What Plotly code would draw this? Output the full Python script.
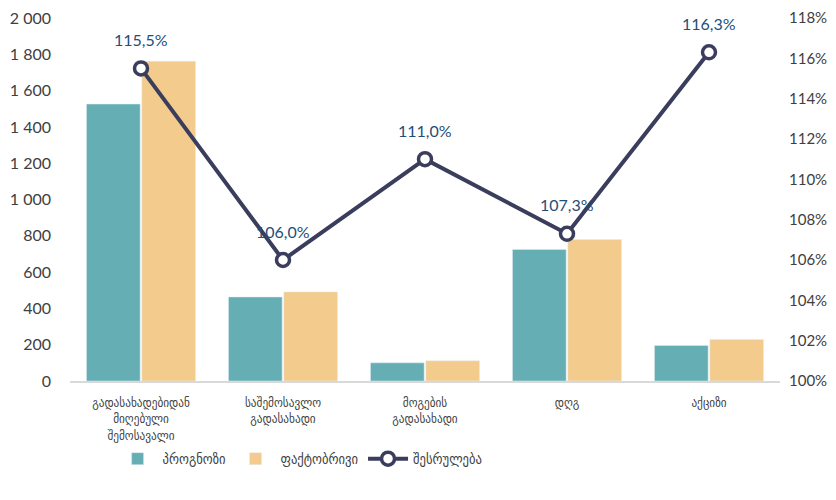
import plotly.graph_objects as go

categories = ["გადასახადებიდან<br>მიღებული<br>შემოსავალი", "საშემოსავლო<br>გადასახადი",
              "მოგების<br>გადასახადი", "დღგ", "აქციზი"]
forecast = [1526, 463, 100, 725, 196]
actual = [1762, 491, 111, 779, 228]
execution = [115.5, 106.0, 111.0, 107.3, 116.3]

FONT = "Lato, 'DejaVu Sans', sans-serif"
GEO = "'DejaVu Sans Condensed', 'DejaVu Sans', sans-serif"
TXT = "#404040"

fig = go.Figure()
fig.add_trace(go.Bar(x=categories, y=forecast, name="პროგნოზი", marker_color="#65AFB4"))
fig.add_trace(go.Bar(x=categories, y=actual, name="ფაქტობრივი", marker_color="#F2CB8D"))
fig.add_trace(go.Scatter(x=categories, y=execution, name="შესრულება", yaxis="y2",
                         mode="lines+markers",
                         line=dict(color="#3A3D5C", width=4),
                         marker=dict(size=13, color="white", line=dict(color="#3A3D5C", width=3.5))))

for c, v in zip(categories, execution):
    fig.add_annotation(x=c, y=v, yref="y2", text=f"{v:.1f}%".replace(".", ","),
                       showarrow=False, yshift=29, font=dict(color="#1F4E79", size=16, family=FONT))

fig.update_layout(
    width=828, height=492,
    margin=dict(l=62, r=56, t=10, b=119),
    plot_bgcolor="white", paper_bgcolor="white",
    separators=", ",
    font=dict(family=FONT, color=TXT, size=14),
    barmode="group", bargap=0.22, bargroupgap=0.03,
    xaxis=dict(showline=True, linecolor="#D9D9D9", linewidth=2, ticks="",
               tickfont=dict(size=12.5, family=GEO), automargin=False,
               ticklabelstandoff=9, ticklabeloverflow="allow"),
    yaxis=dict(range=[0, 2000], dtick=200, showgrid=False, tickformat=",d",
               tickfont=dict(size=16), zeroline=False, automargin=False,
               ticklabelstandoff=18, ticklabeloverflow="allow"),
    yaxis2=dict(range=[100, 118], dtick=2, overlaying="y", side="right", showgrid=False,
                ticksuffix="%", tickfont=dict(size=15), zeroline=False, automargin=False,
                ticklabelstandoff=8, ticklabeloverflow="allow"),
    legend=dict(orientation="h", x=0.06, xanchor="left", y=-0.215, yanchor="middle",
                font=dict(size=14, family=GEO), traceorder="normal", itemwidth=40),
)

fig.write_html("out.html")
